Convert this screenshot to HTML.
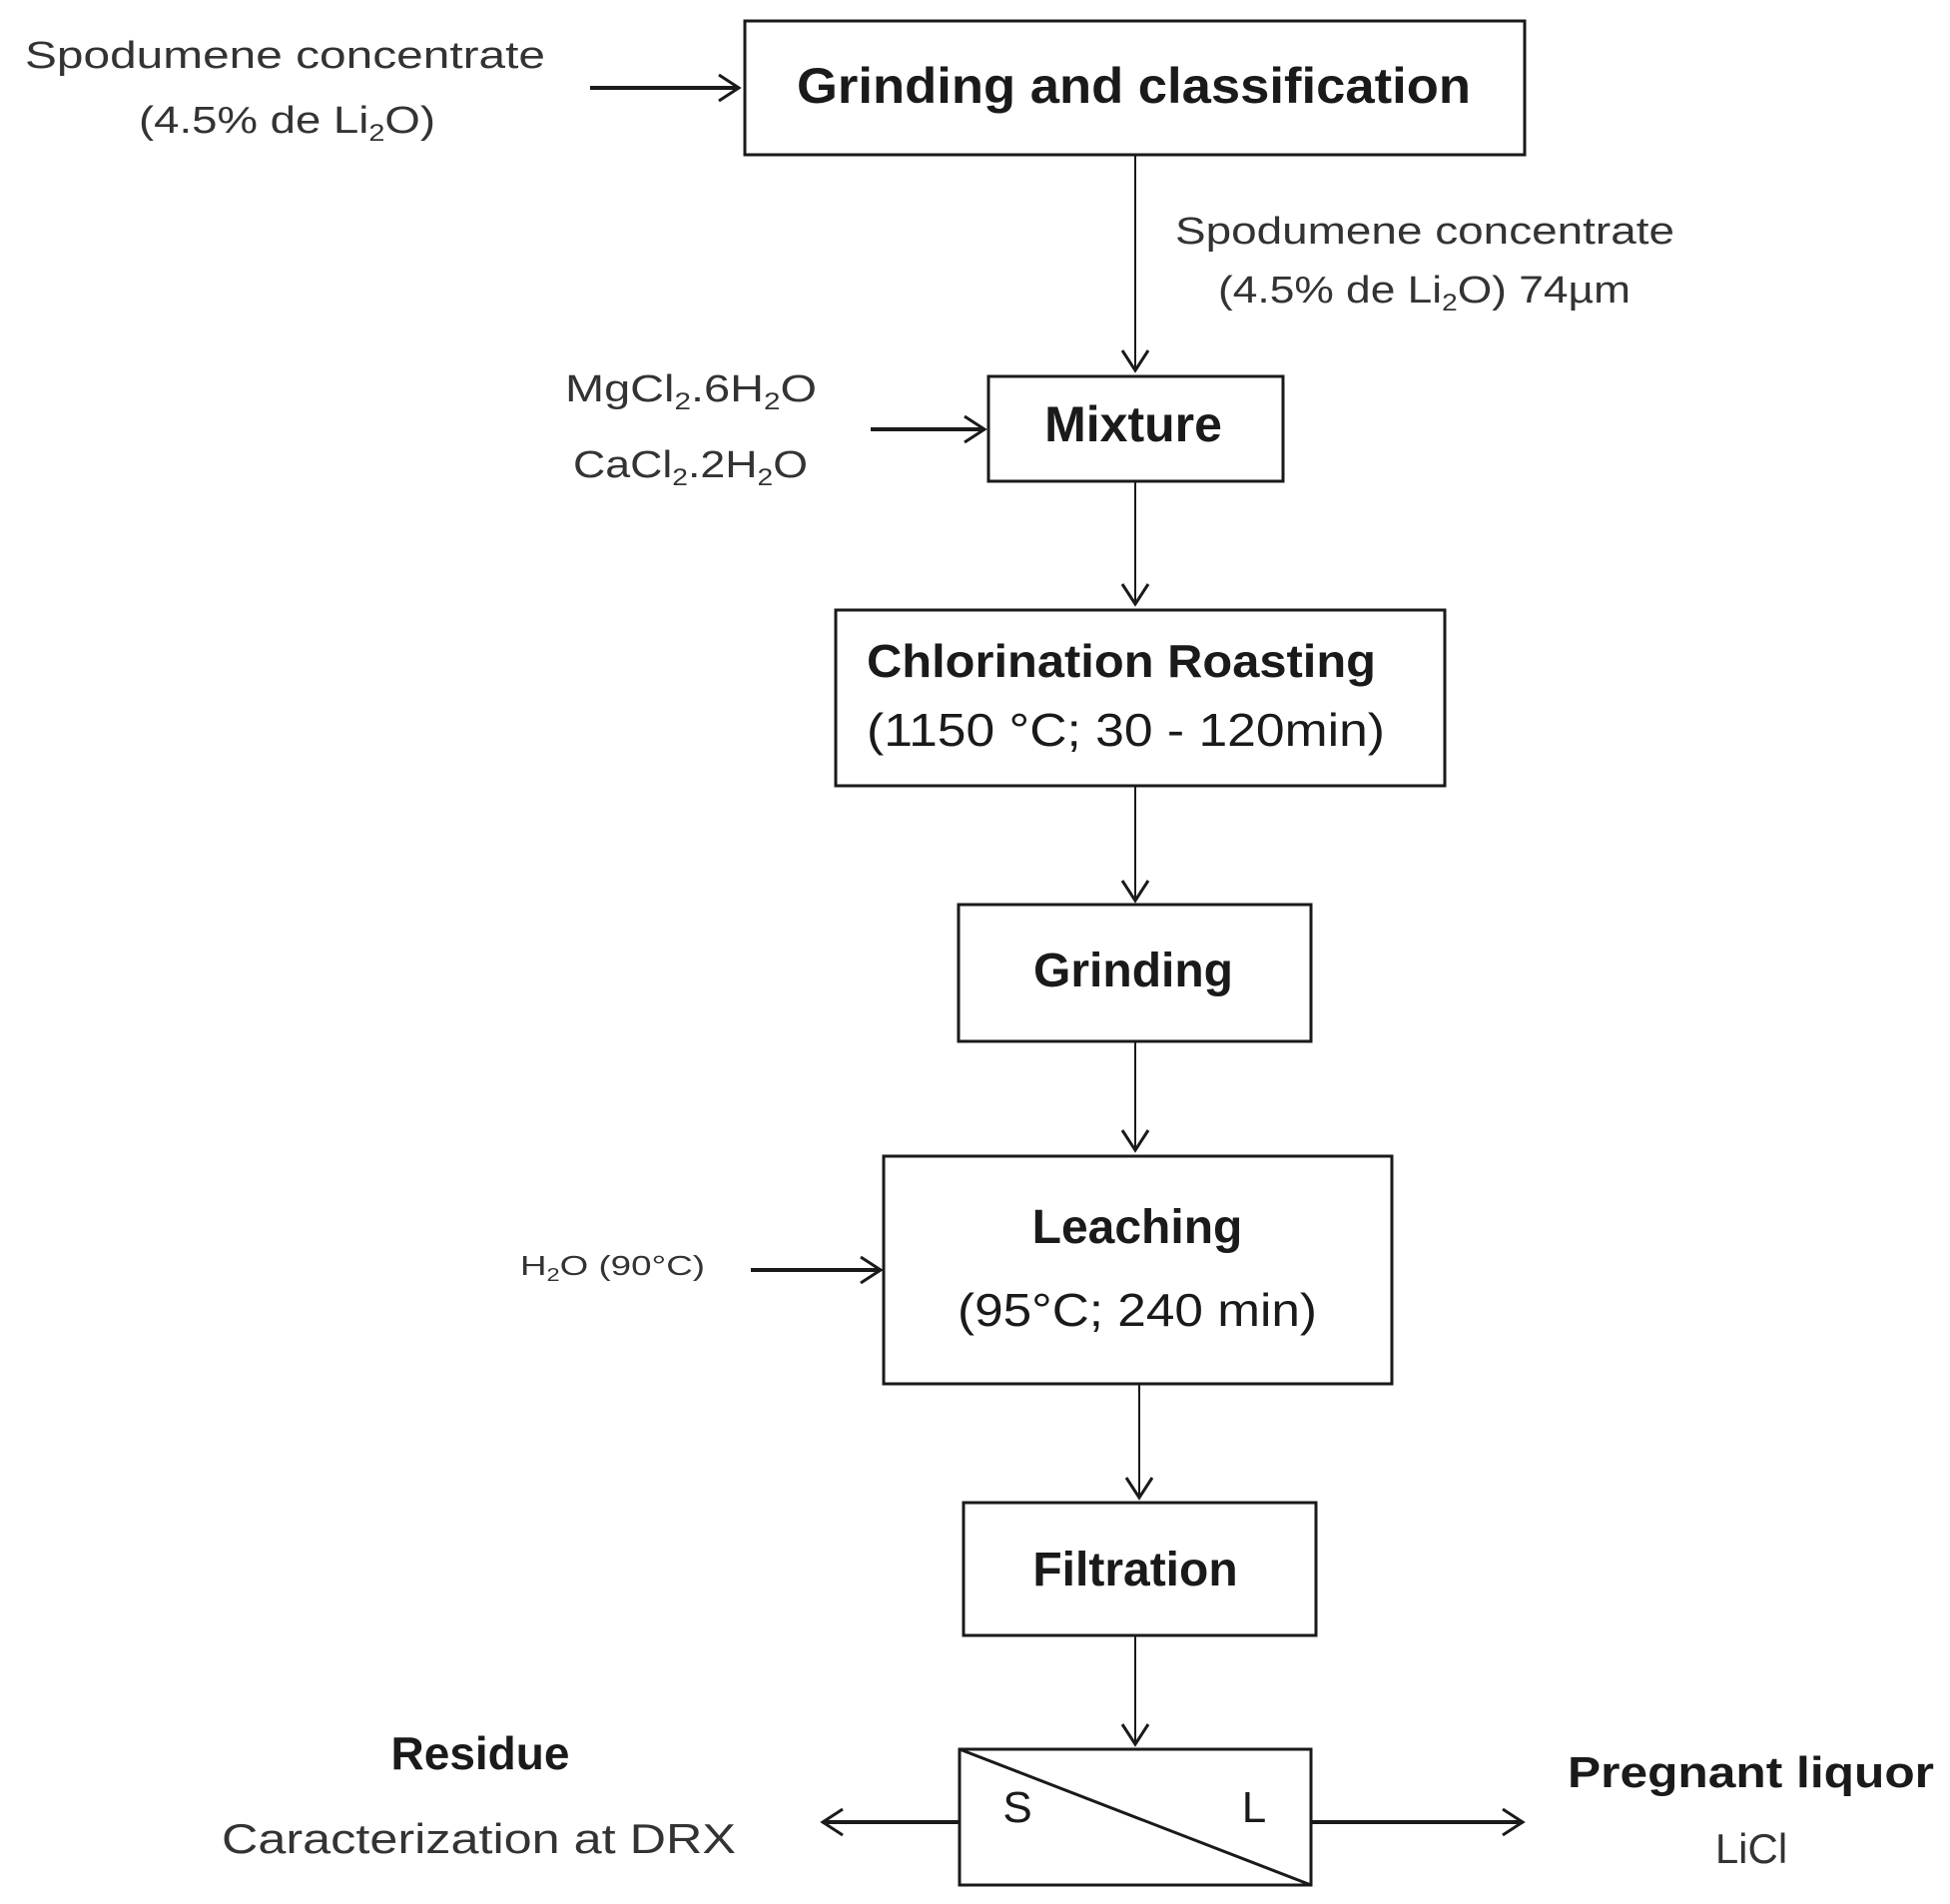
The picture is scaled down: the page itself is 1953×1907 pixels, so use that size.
<!DOCTYPE html>
<html><head><meta charset="utf-8"><style>
html,body{margin:0;padding:0;background:#fff;}
svg{display:block;}
text{font-family:"Liberation Sans",sans-serif;fill:#1a1a1a;}
.b{font-weight:bold;}
.l{fill:#333;}
</style></head><body>
<svg width="1953" height="1907" viewBox="0 0 1953 1907" xmlns="http://www.w3.org/2000/svg">
<defs>
<marker id="a" markerWidth="28" markerHeight="30" refX="24" refY="15" orient="auto" markerUnits="userSpaceOnUse">
<path d="M4,2 L24,15 L4,28" fill="none" stroke="#1a1a1a" stroke-width="3"/>
</marker>
</defs>
<g fill="none" stroke="#1a1a1a" stroke-width="3">
<rect x="746" y="21" width="781" height="134"/>
<rect x="990" y="377" width="295" height="105"/>
<rect x="837" y="611" width="610" height="176"/>
<rect x="960" y="906" width="353" height="137"/>
<rect x="885" y="1158" width="509" height="228"/>
<rect x="965" y="1505" width="353" height="133"/>
<rect x="961" y="1752" width="352" height="136"/>
<line x1="961" y1="1752" x2="1313" y2="1888"/>
</g>
<g stroke="#1a1a1a" stroke-width="3" marker-end="url(#a)">
<line x1="591" y1="88" x2="740" y2="88" stroke-width="4"/>
<line x1="1137" y1="155" x2="1137" y2="371" stroke-width="2"/>
<line x1="872" y1="430" x2="986" y2="430" stroke-width="4"/>
<line x1="1137" y1="482" x2="1137" y2="605" stroke-width="2"/>
<line x1="1137" y1="787" x2="1137" y2="902" stroke-width="2"/>
<line x1="1137" y1="1043" x2="1137" y2="1152" stroke-width="2"/>
<line x1="752" y1="1272" x2="882" y2="1272" stroke-width="4"/>
<line x1="1141" y1="1386" x2="1141" y2="1500" stroke-width="2"/>
<line x1="1137" y1="1638" x2="1137" y2="1747" stroke-width="2"/>
<line x1="961" y1="1825" x2="824" y2="1825" stroke-width="4"/>
<line x1="1313" y1="1825" x2="1525" y2="1825" stroke-width="4"/>
</g>
<text class="b" x="798" y="103" font-size="50" textLength="675" lengthAdjust="spacingAndGlyphs">Grinding and classification</text>
<text class="l" x="25" y="68" font-size="38" textLength="521" lengthAdjust="spacingAndGlyphs">Spodumene concentrate</text>
<text class="l" x="139" y="133" font-size="38" textLength="297" lengthAdjust="spacingAndGlyphs">(4.5% de Li<tspan font-size="24" dy="8">2</tspan><tspan dy="-8">O)</tspan></text>
<text class="l" x="1177" y="244" font-size="38" textLength="500" lengthAdjust="spacingAndGlyphs">Spodumene concentrate</text>
<text class="l" x="1220" y="303" font-size="38" textLength="413" lengthAdjust="spacingAndGlyphs">(4.5% de Li<tspan font-size="24" dy="8">2</tspan><tspan dy="-8">O) 74µm</tspan></text>
<text class="l" x="566" y="402" font-size="38" textLength="252" lengthAdjust="spacingAndGlyphs">MgCl<tspan font-size="24" dy="8">2</tspan><tspan dy="-8">.6H</tspan><tspan font-size="24" dy="8">2</tspan><tspan dy="-8">O</tspan></text>
<text class="l" x="574" y="478" font-size="38" textLength="235" lengthAdjust="spacingAndGlyphs">CaCl<tspan font-size="24" dy="8">2</tspan><tspan dy="-8">.2H</tspan><tspan font-size="24" dy="8">2</tspan><tspan dy="-8">O</tspan></text>
<text class="b" x="1135" y="442" font-size="50" text-anchor="middle">Mixture</text>
<text class="b" x="868" y="678" font-size="46" textLength="510" lengthAdjust="spacingAndGlyphs">Chlorination Roasting</text>
<text x="868" y="747" font-size="46" textLength="519" lengthAdjust="spacingAndGlyphs">(1150 °C; 30 - 120min)</text>
<text class="b" x="1135" y="988" font-size="48" text-anchor="middle">Grinding</text>
<text class="b" x="1139" y="1245" font-size="48" text-anchor="middle">Leaching</text>
<text x="1139" y="1328" font-size="46" text-anchor="middle" textLength="360" lengthAdjust="spacingAndGlyphs">(95°C; 240 min)</text>
<text class="l" x="521" y="1277" font-size="28" textLength="185" lengthAdjust="spacingAndGlyphs" fill="#555">H<tspan font-size="18" dy="6">2</tspan><tspan dy="-6">O (90°C)</tspan></text>
<text class="b" x="1137" y="1588" font-size="48" text-anchor="middle">Filtration</text>
<text x="1019" y="1825" font-size="44" text-anchor="middle">S</text>
<text x="1256" y="1825" font-size="44" text-anchor="middle">L</text>
<text class="b" x="481" y="1772" font-size="46" text-anchor="middle">Residue</text>
<text class="l" x="222" y="1856" font-size="42" textLength="515" lengthAdjust="spacingAndGlyphs">Caracterization at DRX</text>
<text class="b" x="1570" y="1790" font-size="44" textLength="367" lengthAdjust="spacingAndGlyphs">Pregnant liquor</text>
<text class="l" x="1754" y="1866" font-size="42" text-anchor="middle">LiCl</text>
</svg>
</body></html>
